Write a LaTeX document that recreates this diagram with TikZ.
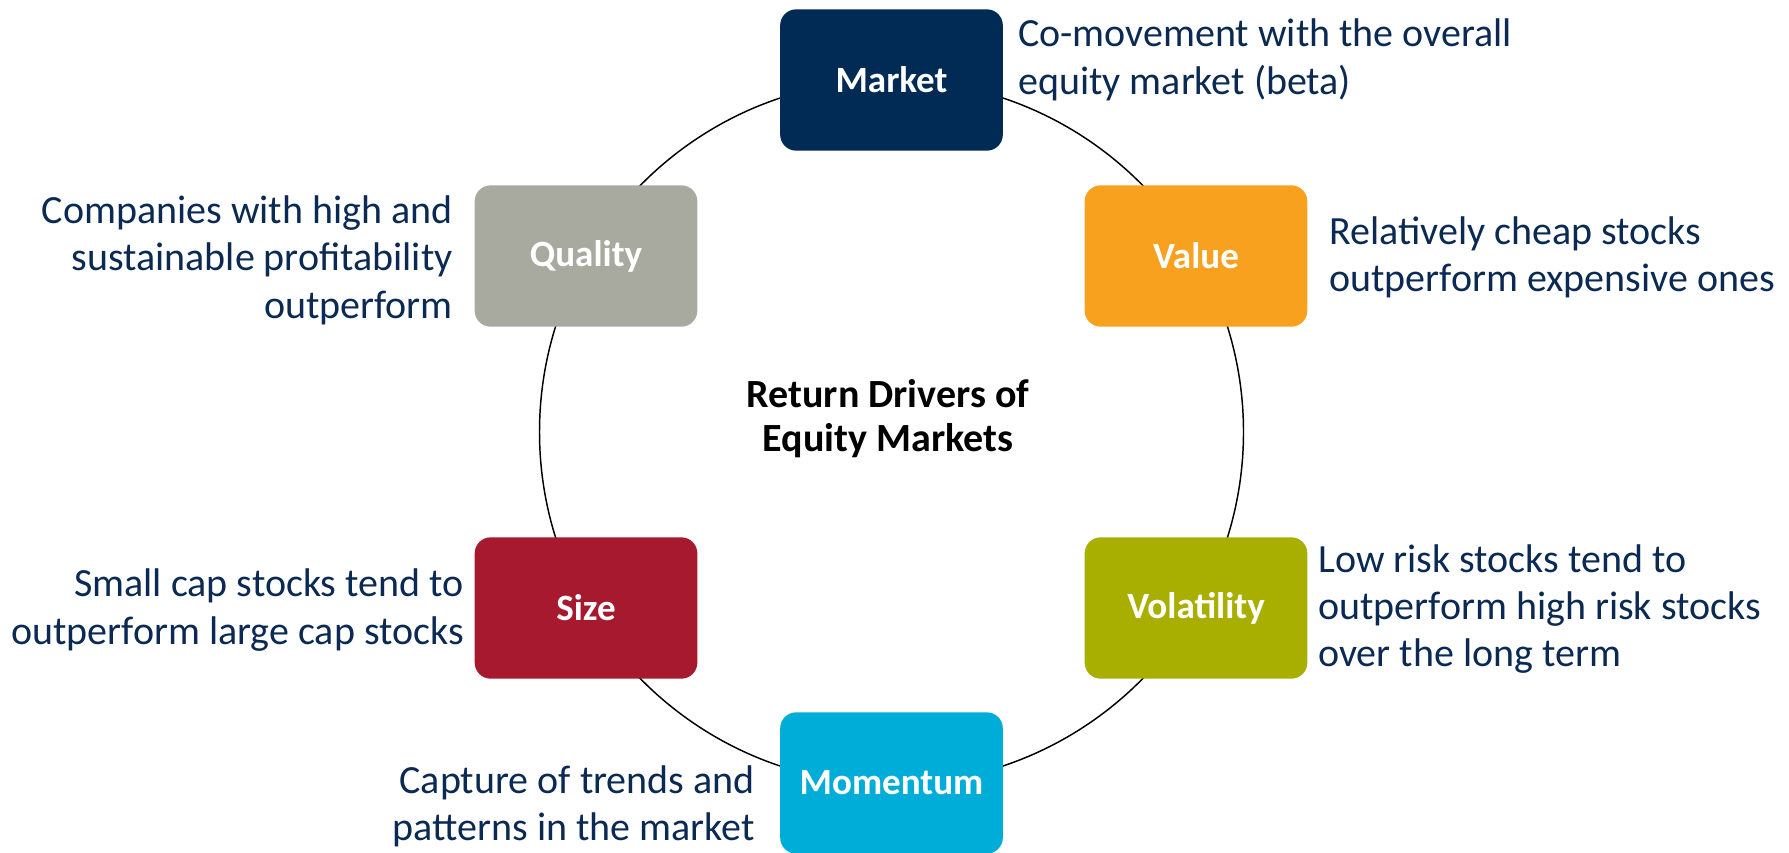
\documentclass[tikz,border=0pt]{standalone}
\usepackage{fontspec}
\setmainfont{Carlito}
\usepackage{tikz}
\usetikzlibrary{positioning}
\definecolor{azulmercado}{RGB}{1,42,84}
\definecolor{naranjavalor}{RGB}{247,161,30}
\definecolor{olivavol}{RGB}{168,175,0}
\definecolor{cianmom}{RGB}{0,173,216}
\definecolor{rojotam}{RGB}{166,25,46}
\definecolor{griscal}{RGB}{168,170,160}
\definecolor{azultexto}{RGB}{10,42,84}

\begin{document}
\begin{tikzpicture}[x=0.75pt, y=-0.75pt,
  caja/.style={rectangle, rounded corners=12pt, minimum width=167pt, minimum height=106pt,
    text=white, font=\fontsize{27.8}{32}\selectfont\bfseries},
  desc/.style={inner sep=0pt, text=azultexto, font=\fontsize{30}{35.5}\selectfont}]

  \useasboundingbox (0,0) rectangle (1789,853);

  % Anillo
  \coordinate (centro) at (891.5,432);
  \draw[line width=1.1pt] (centro) circle[radius=264pt];
  \node (titulo) at (888,419) [align=center, font=\fontsize{30}{33}\selectfont\bfseries]
    {Return Drivers of\\Equity Markets};

  % Cajas
  \node[caja, fill=azulmercado] (market) at (891.5,80) {Market};
  \node[caja, fill=naranjavalor] (value) at (1196,256) {Value};
  \node[caja, fill=olivavol] (volat) at (1196,608) {Volatility};
  \node[caja, fill=cianmom] (momentum) at (891.5,783) {Momentum};
  \node[caja, fill=rojotam] (size) at (586,608) {Size};
  \node[caja, fill=griscal] (quality) at (586,256) {Quality};

  % Descripciones
  \node[desc, anchor=west, align=left] (dmarket) at (1018,60)
    {Co-movement with the overall\\equity market (beta)};
  \node[desc, anchor=west, align=left] (dvalue) at (1329,257)
    {Relatively cheap stocks\\outperform expensive ones};
  \node[desc, anchor=west, align=left] (dvolat) at (1318,609)
    {Low risk stocks tend to\\outperform high risk stocks\\over the long term};
  \node[desc, anchor=east, align=right] (dmomentum) at (755,806)
    {Capture of trends and\\patterns in the market};
  \node[desc, anchor=east, align=right] (dsize) at (464,610)
    {Small cap stocks tend to\\outperform large cap stocks};
  \node[desc, anchor=east, align=right] (dquality) at (453,260)
    {Companies with high and\\sustainable profitability\\outperform};
\end{tikzpicture}
\end{document}
